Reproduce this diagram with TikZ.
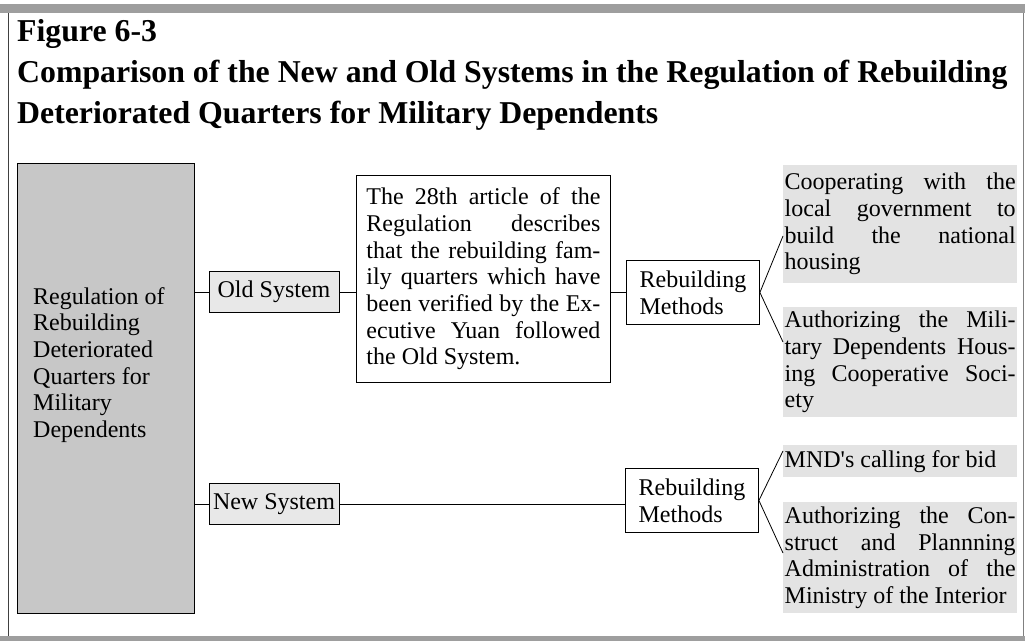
\documentclass[tikz,border=0pt]{standalone}
\usepackage{fontspec}
\setmainfont{Liberation Serif}
\definecolor{regfill}{gray}{0.78}
\definecolor{sysfill}{gray}{0.91}
\definecolor{wayfill}{gray}{0.89}
\definecolor{bandfill}{gray}{0.62}

\begin{document}
\begin{tikzpicture}
  \tikzset{
    bodyfont/.style={font=\fontsize{24}{26.7}\selectfont},
    titletext/.style={anchor=base west, inner sep=0pt, font=\bfseries\fontsize{31.8}{32}\selectfont},
    sysbox/.style={draw=black, line width=0.9pt, fill=sysfill, minimum width=130pt, minimum height=41pt, inner sep=2pt, bodyfont},
    textbox/.style={draw=black, line width=0.9pt, fill=white, align=justify, inner xsep=10pt, inner ysep=0pt, bodyfont},
    methodbox/.style={draw=black, line width=0.9pt, fill=white, minimum width=133pt, minimum height=64pt, align=left, inner xsep=8pt, bodyfont},
    wayarea/.style={fill=wayfill, text width=231pt, align=justify, inner xsep=1.5pt, inner ysep=0pt, bodyfont},
    link/.style={line width=0.8pt}
  }

  \useasboundingbox (0pt,0pt) rectangle (1025pt,-641pt);
  \fill[bandfill] (0pt,-4pt) rectangle (1025pt,-13pt);
  \fill[bandfill] (0pt,-636pt) rectangle (1025pt,-641pt);
  \draw[line width=0.8pt, black!75] (8pt,-13pt) -- (8pt,-636pt);
  \draw[line width=0.8pt, black!50] (1023pt,-13pt) -- (1023pt,-636pt);

  \node[titletext] (figno) at (17pt,-41pt) {Figure 6-3};
  \node[titletext] (title1) at (17pt,-82pt) {Comparison of the New and Old Systems in the Regulation of Rebuilding};
  \node[titletext] (title2) at (17pt,-123pt) {Deteriorated Quarters for Military Dependents};

  \node[draw=black, line width=0.9pt, fill=regfill, minimum width=177pt, minimum height=450pt, inner sep=0pt, anchor=north west] (reg) at (17pt,-163pt) {};
  \node[align=left, inner sep=0pt, anchor=north west, bodyfont] (regtext) at (33pt,-287pt) {Regulation of\\Rebuilding\\Deteriorated\\Quarters for\\Military\\Dependents};

  \node[sysbox] (old) at (274pt,-292pt) {Old System};
  \node[sysbox] (new) at (274pt,-504pt) {New System};

  \node[textbox, text width=234pt, minimum height=207pt, anchor=north west] (article) at (356pt,-175pt) {The 28th article of the\linebreak Regulation describes\linebreak that the rebuilding fam-\linebreak ily quarters which have\linebreak been verified by the Ex-\linebreak ecutive Yuan followed\linebreak the Old System.};

  \node[methodbox, anchor=north west] (oldway) at (626pt,-260pt) {Rebuilding\\Methods};
  \node[methodbox, anchor=north west] (newway) at (625pt,-468pt) {Rebuilding\\Methods};

  \node[wayarea, minimum height=118pt, anchor=north west] (coop) at (783pt,-165pt) {Cooperating with the\linebreak local government to\linebreak build the national\linebreak housing};
  \node[wayarea, minimum height=110pt, anchor=north west] (society) at (783pt,-307pt) {Authorizing the Mili-\linebreak tary Dependents Hous-\linebreak ing Cooperative Soci-\linebreak ety};
  \node[wayarea, minimum height=32pt, anchor=north west] (bid) at (783pt,-445pt) {MND\textquotesingle s calling for bid};
  \node[wayarea, minimum height=111pt, anchor=north west] (cpa) at (783pt,-502pt) {Authorizing the Con-\linebreak struct and Plannning\linebreak Administration of the\linebreak Ministry of the Interior};

  \coordinate (coopin) at (783pt,-236pt);
  \coordinate (societyin) at (783pt,-342pt);
  \coordinate (bidin) at (783pt,-451pt);
  \coordinate (cpain) at (783pt,-553pt);

  \draw[link] (reg.east |- old.west) -- (old.west);
  \draw[link] (reg.east |- new.west) -- (new.west);
  \draw[link] (old.east) -- (old.east -| article.west);
  \draw[link] (article.east |- oldway.west) -- (oldway.west);
  \draw[link] (new.east) -- (new.east -| newway.west);
  \draw[link] (oldway.east) -- (coopin);
  \draw[link] (oldway.east) -- (societyin);
  \draw[link] (newway.east) -- (bidin);
  \draw[link] (newway.east) -- (cpain);
\end{tikzpicture}
\end{document}
